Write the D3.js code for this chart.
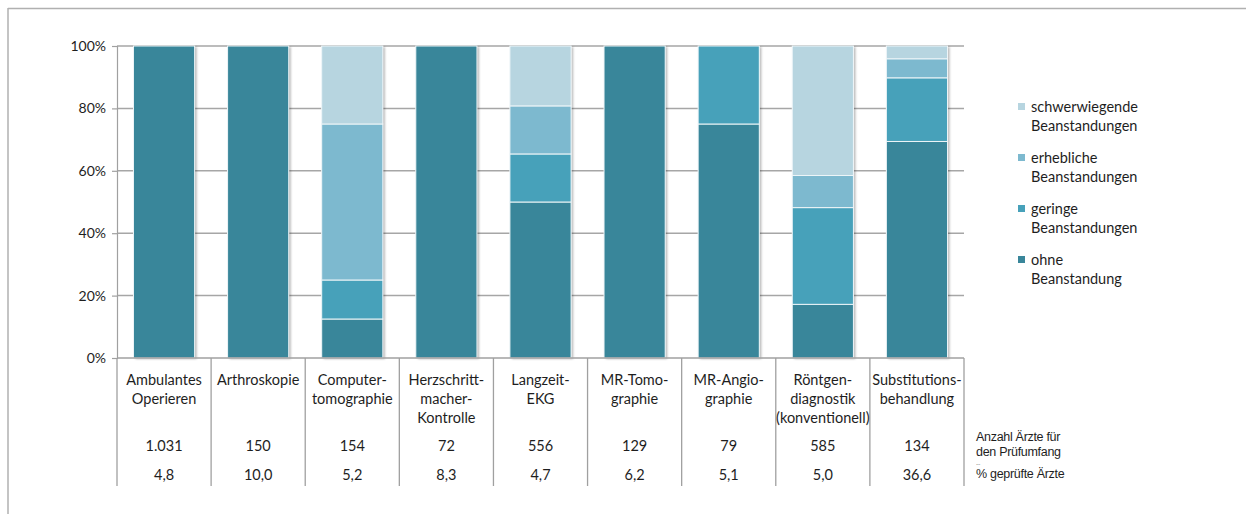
<!DOCTYPE html>
<html>
<head>
<meta charset="utf-8">
<script src="https://cdn.jsdelivr.net/npm/d3@7"></script>
<style>
html,body{margin:0;padding:0;background:#fff;}
svg{display:block;}
</style>
</head>
<body>
<svg id="chart" width="1246" height="514"></svg>
<script>
// ---- data ----
const categories = [
  ["Ambulantes","Operieren"],
  ["Arthroskopie"],
  ["Computer-","tomographie"],
  ["Herzschritt-","macher-","Kontrolle"],
  ["Langzeit-","EKG"],
  ["MR-Tomo-","graphie"],
  ["MR-Angio-","graphie"],
  ["Röntgen-","diagnostik","(konventionell)"],
  ["Substitutions-","behandlung"]
];
const seriesNames = [
  ["ohne","Beanstandung"],
  ["geringe","Beanstandungen"],
  ["erhebliche","Beanstandungen"],
  ["schwerwiegende","Beanstandungen"]
];
const ohne        = [100, 100, 12.5, 100, 50.0, 100, 75, 17.2, 69.4];
const geringe     = [0,   0,   12.5, 0,   15.4, 0,   25, 31.0, 20.4];
const erhebliche  = [0,   0,   50.0, 0,   15.4, 0,   0,  10.3, 6.1];
const schwer      = [0,   0,   25.0, 0,   19.2, 0,   0,  41.5, 4.1];
const anzahl      = ["1.031","150","154","72","556","129","79","585","134"];
const prozent     = ["4,8","10,0","5,2","8,3","4,7","6,2","5,1","5,0","36,6"];
const yTicks      = [0, 20, 40, 60, 80, 100];
const colors      = ["#39869a", "#47a1ba", "#7db9cf", "#b7d5e0"];

(function(){
// ---- layout ----
const svg = d3.select("#chart");
const pLeft = 117, pRight = 964, pTop = 46, pBottom = 358;
const font = "Lato, 'Open Sans', sans-serif";
const textColor = "#1e1e1e";

// outer frame (top and left only)
svg.append("line").attr("x1",8).attr("x2",1246).attr("y1",8.5).attr("y2",8.5)
  .attr("stroke","#b0b0b0").attr("stroke-width",1.5);
svg.append("line").attr("x1",8).attr("x2",8).attr("y1",8).attr("y2",514)
  .attr("stroke","#b0b0b0").attr("stroke-width",1.5);

const ids = categories.map((d,i)=>i);
const x = d3.scaleBand().domain(ids).range([pLeft,pRight]).paddingInner(0.35).paddingOuter(0.175);
const y = d3.scaleLinear().domain([0,100]).range([pBottom,pTop]);

// shadow filter
const defs = svg.append("defs");
const f = defs.append("filter").attr("id","shadow").attr("x","-20%").attr("y","-5%").attr("width","140%").attr("height","110%");
f.append("feDropShadow").attr("dx",2).attr("dy",1).attr("stdDeviation",1.3)
  .attr("flood-color","#000").attr("flood-opacity",0.28);

// gridlines
svg.append("g").selectAll("line").data(yTicks.filter(t=>t>0)).join("line")
  .attr("x1",pLeft).attr("x2",pRight)
  .attr("y1",d=>y(d)).attr("y2",d=>y(d))
  .attr("stroke","#a6a6a6").attr("stroke-width",1.5);

// y axis
const yAxis = d3.axisLeft(y).tickValues(yTicks).tickSize(5).tickFormat(d=>d+"%");
const gy = svg.append("g").attr("transform",`translate(${pLeft},0)`).call(yAxis);
gy.select(".domain").attr("stroke","#a0a0a0").attr("stroke-width",1.2);
gy.selectAll(".tick line").attr("stroke","#a0a0a0").attr("stroke-width",1.2);
gy.selectAll(".tick text").attr("x",-11).attr("font-family",font).attr("font-size",14).attr("fill",textColor);

// stacked bars
const rows = ids.map(i=>({i, ohne:ohne[i], geringe:geringe[i], erhebliche:erhebliche[i], schwer:schwer[i]}));
const keys = ["ohne","geringe","erhebliche","schwer"];
const stack = d3.stack().keys(keys)(rows);

const barG = svg.append("g");
barG.selectAll("rect.bg").data(rows).join("rect")
  .attr("class","bg")
  .attr("x",d=>x(d.i)).attr("width",x.bandwidth())
  .attr("y",y(100)).attr("height",y(0)-y(100))
  .attr("fill","#fff").attr("filter","url(#shadow)");

barG.selectAll("g.layer").data(stack).join("g")
  .attr("class","layer")
  .attr("fill",(d,k)=>colors[k])
  .selectAll("rect").data(d=>d.filter(s=>s[1]-s[0]>0)).join("rect")
  .attr("x",d=>x(d.data.i)).attr("width",x.bandwidth())
  .attr("y",d=>y(d[1])).attr("height",d=>y(d[0])-y(d[1]))
  .attr("stroke","#eef5f8").attr("stroke-width",1);

// x axis baseline
svg.append("line").attr("x1",pLeft).attr("x2",pRight).attr("y1",pBottom).attr("y2",pBottom)
  .attr("stroke","#a0a0a0").attr("stroke-width",1.5);

// table separators
const seps = ids.map(i=>x(i)-x.step()*x.paddingInner()/2).concat([pRight]);
svg.append("g").selectAll("line").data(seps).join("line")
  .attr("x1",d=>d).attr("x2",d=>d).attr("y1",pBottom).attr("y2",486)
  .attr("stroke","#a0a0a0").attr("stroke-width",1.3);

// category labels
const cg = svg.append("g").attr("font-family",font).attr("font-size",14.5).attr("fill",textColor).attr("text-anchor","middle");
categories.forEach((lines,i)=>{
  const cx = x(i)+x.bandwidth()/2;
  const t = cg.append("text").attr("x",cx).attr("y",384.5);
  lines.forEach((l,j)=>t.append("tspan").attr("x",cx).attr("dy",j===0?0:19.3).text(l));
});
cg.selectAll("text.n").data(anzahl).join("text").attr("class","n")
  .attr("x",(d,i)=>x(i)+x.bandwidth()/2).attr("y",451).text(d=>d);
cg.selectAll("text.p").data(prozent).join("text").attr("class","p")
  .attr("x",(d,i)=>x(i)+x.bandwidth()/2).attr("y",480).text(d=>d);

// right row labels
const rl = svg.append("g").attr("font-family","'Liberation Sans Narrow', 'Liberation Sans', Arial, sans-serif")
  .attr("font-size",12.5).attr("fill",textColor).attr("letter-spacing","-0.3");
rl.append("text").attr("x",976).attr("y",440.5).text("Anzahl Ärzte für");
rl.append("text").attr("x",976).attr("y",455.5).text("den Prüfumfang");
rl.append("text").attr("x",976).attr("y",465).text("...").attr("font-size",6);
rl.append("text").attr("x",976).attr("y",478).text("% geprüfte Ärzte");

// legend
const legendOrder = [3,2,1,0];
const lg = svg.append("g").attr("font-family",font).attr("font-size",14.5).attr("fill",textColor);
legendOrder.forEach((k,j)=>{
  const y0 = 107 + j*51;
  lg.append("rect").attr("x",1018).attr("y",y0-4).attr("width",7).attr("height",7).attr("fill",colors[k]);
  const t = lg.append("text").attr("x",1031).attr("y",y0+5);
  seriesNames[k].forEach((l,m)=>t.append("tspan").attr("x",1031).attr("dy",m===0?0:19).text(l));
});
})();
</script>
</body>
</html>
